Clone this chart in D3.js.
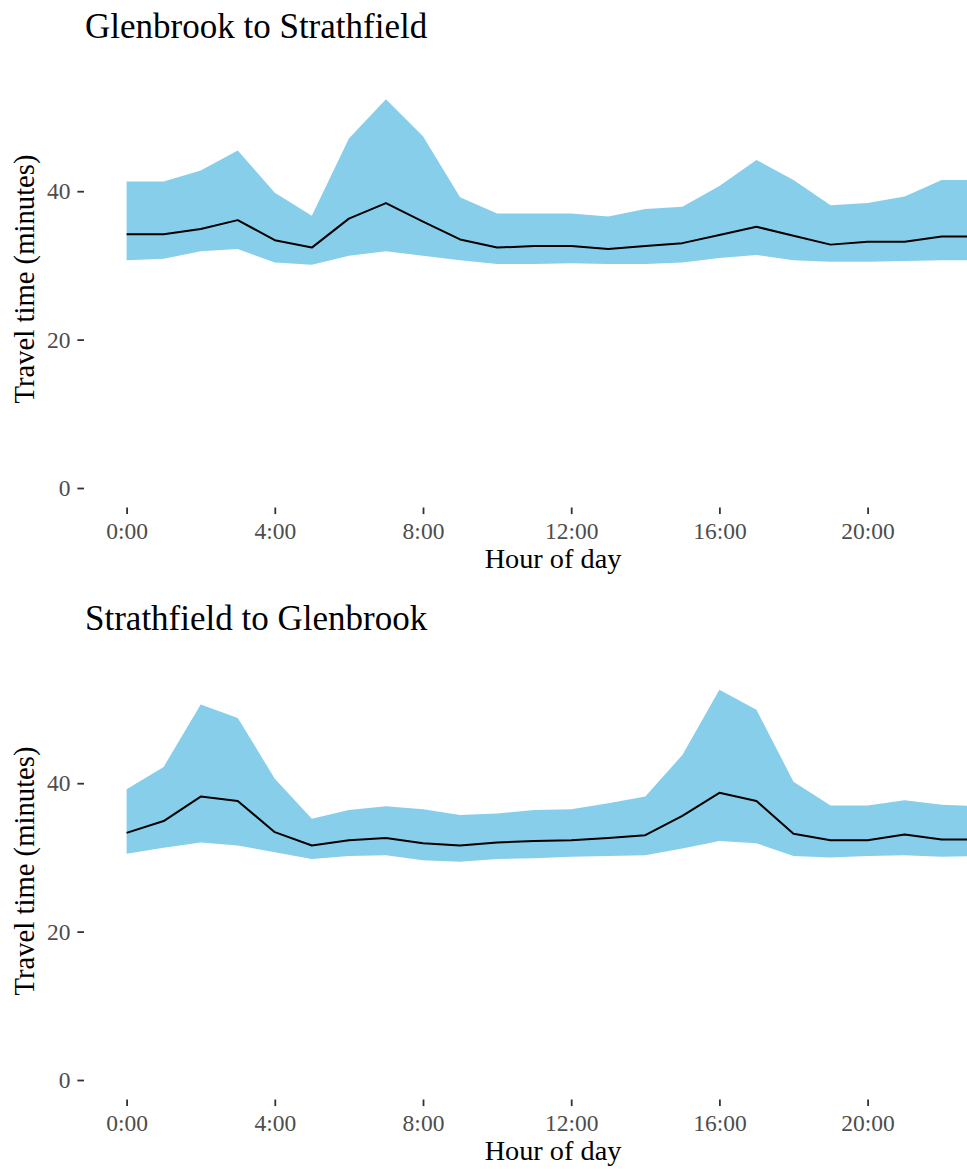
<!DOCTYPE html>
<html>
<head>
<meta charset="utf-8">
<script src="https://cdn.jsdelivr.net/npm/d3@7"></script>
<style>
  html, body { margin: 0; padding: 0; background: #fff; }
  svg { display: block; }
</style>
</head>
<body>
<div id="chart"></div>
<script>
// ---- Data ----
const hours = [0,1,2,3,4,5,6,7,8,9,10,11,12,13,14,15,16,17,18,19,20,21,22,23];

const titles = ["Glenbrook to Strathfield", "Strathfield to Glenbrook"];

// Glenbrook -> Strathfield
const gsLow  = [30.7,30.9,31.9,32.2,30.4,30.1,31.3,31.9,31.3,30.7,30.2,30.2,30.3,30.2,30.2,30.4,31.0,31.4,30.7,30.5,30.5,30.6,30.7,30.7];
const gsMed  = [34.2,34.2,34.9,36.1,33.4,32.4,36.3,38.4,35.9,33.5,32.4,32.6,32.6,32.2,32.6,33.0,34.1,35.2,34.0,32.8,33.2,33.2,33.9,33.9];
const gsHigh = [41.3,41.3,42.8,45.5,39.8,36.7,47.1,52.4,47.4,39.2,37.0,37.0,37.0,36.6,37.6,37.9,40.7,44.2,41.5,38.1,38.4,39.3,41.5,41.5];

// Strathfield -> Glenbrook
const sgLow  = [30.5,31.3,32.0,31.6,30.7,29.8,30.2,30.3,29.6,29.4,29.8,29.9,30.1,30.2,30.3,31.2,32.2,31.9,30.2,30.0,30.2,30.3,30.1,30.2];
const sgMed  = [33.3,34.9,38.2,37.6,33.4,31.6,32.3,32.6,31.9,31.6,32.0,32.2,32.3,32.6,33.0,35.6,38.7,37.6,33.2,32.3,32.3,33.1,32.4,32.4];
const sgHigh = [39.2,42.2,50.6,48.8,40.6,35.2,36.4,36.9,36.5,35.7,35.9,36.4,36.5,37.3,38.2,43.8,52.6,49.9,40.2,37.0,37.0,37.7,37.1,36.9];

const xTickValues = [0,4,8,12,16,20];
const xTickLabels = ["0:00","4:00","8:00","12:00","16:00","20:00"];
const yTickValues = [0,20,40];

const xTitle = "Hour of day";
const yTitle = "Travel time (minutes)";

// ---- Layout ----
const W = 967, H = 1169;
const FONT = "'Liberation Serif', 'Times New Roman', serif";
const panelLeft = 84, panelRight = 1022;
const panels = [
  { title: titles[0], low: gsLow, med: gsMed, high: gsHigh, offset: 0 },
  { title: titles[1], low: sgLow, med: sgMed, high: sgHigh, offset: 592 }
];

const svg = d3.select("#chart").append("svg")
  .attr("width", W).attr("height", H)
  .attr("viewBox", `0 0 ${W} ${H}`)
  .style("font-family", FONT);

const x = d3.scaleLinear().domain([0, 23]).range([126.6, 126.6 + 23 * 37.05]);

panels.forEach((p, i) => {
  const g = svg.append("g").attr("transform", `translate(0,${p.offset})`);
  const y = d3.scaleLinear().domain([0, 40]).range([488, 191.2]);
  const panelBottom = 507.5;

  const clipId = "clip" + i;
  g.append("clipPath").attr("id", clipId)
    .append("rect").attr("x", panelLeft).attr("y", 40)
    .attr("width", Math.min(W, panelRight) - panelLeft).attr("height", panelBottom - 40);

  const rows = hours.map((h, k) => ({ h, lo: p.low[k], md: p.med[k], hi: p.high[k] }));

  const plot = g.append("g").attr("clip-path", `url(#${clipId})`);

  plot.append("path")
    .datum(rows)
    .attr("fill", "#87CEEB")
    .attr("d", d3.area().x(d => x(d.h)).y0(d => y(d.lo)).y1(d => y(d.hi)));

  plot.append("path")
    .datum(rows)
    .attr("fill", "none")
    .attr("stroke", "#000")
    .attr("stroke-width", 2)
    .attr("stroke-linejoin", "round")
    .attr("d", d3.line().x(d => x(d.h)).y(d => y(d.md)));

  // x axis
  const xAxis = g.append("g")
    .attr("transform", `translate(0,${panelBottom})`)
    .call(d3.axisBottom(x).tickValues(xTickValues)
      .tickFormat((d, k) => xTickLabels[k]).tickSize(6.6).tickPadding(8.5));
  xAxis.select(".domain").remove();
  xAxis.selectAll(".tick line").attr("stroke", "#333333").attr("stroke-width", 1.8);
  xAxis.selectAll(".tick text").attr("fill", "#4D4D4D")
    .style("font-family", FONT).style("font-size", "23.5px");

  // y axis
  const yAxis = g.append("g")
    .attr("transform", `translate(${panelLeft},0)`)
    .call(d3.axisLeft(y).tickValues(yTickValues).tickSize(6.6).tickPadding(7));
  yAxis.select(".domain").remove();
  yAxis.selectAll(".tick line").attr("stroke", "#333333").attr("stroke-width", 1.8);
  yAxis.selectAll(".tick text").attr("fill", "#4D4D4D")
    .style("font-family", FONT).style("font-size", "23.5px");

  // titles
  g.append("text")
    .attr("x", 85).attr("y", 37.7)
    .attr("fill", "#000")
    .style("font-size", "35px")
    .text(p.title);

  g.append("text")
    .attr("x", (panelLeft + panelRight) / 2).attr("y", 568.3)
    .attr("text-anchor", "middle")
    .attr("fill", "#000")
    .style("font-size", "28.3px")
    .text(xTitle);

  g.append("text")
    .attr("transform", `translate(34,279) rotate(-90)`)
    .attr("text-anchor", "middle")
    .attr("fill", "#000")
    .style("font-size", "28.7px")
    .text(yTitle);
});
</script>
</body>
</html>
